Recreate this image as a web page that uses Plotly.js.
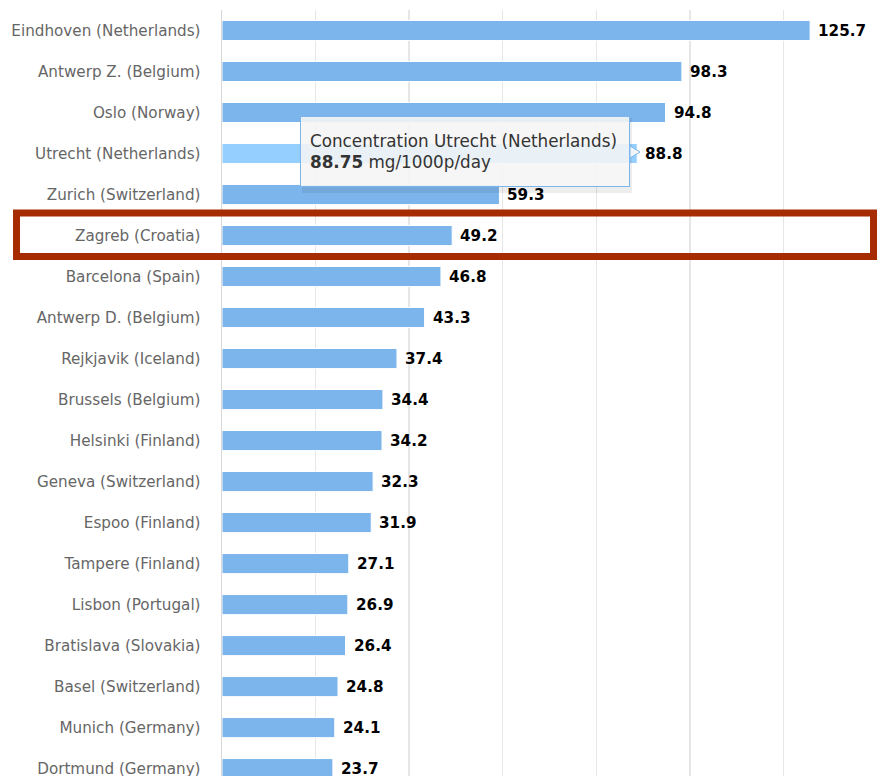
<!DOCTYPE html>
<html>
<head>
<meta charset="utf-8">
<script src="https://cdn.plot.ly/plotly-3.0.1.min.js"></script>
<style>html,body{margin:0;padding:0;background:#fff;}#chart{width:880px;height:776px;}</style>
</head>
<body>
<div id="chart"></div>
<script>
var cities = [
  "Eindhoven (Netherlands)", "Antwerp Z. (Belgium)", "Oslo (Norway)", "Utrecht (Netherlands)",
  "Zurich (Switzerland)", "Zagreb (Croatia)", "Barcelona (Spain)", "Antwerp D. (Belgium)",
  "Rejkjavik (Iceland)", "Brussels (Belgium)", "Helsinki (Finland)", "Geneva (Switzerland)",
  "Espoo (Finland)", "Tampere (Finland)", "Lisbon (Portugal)", "Bratislava (Slovakia)",
  "Basel (Switzerland)", "Munich (Germany)", "Dortmund (Germany)"
];
var concentration = [125.7, 98.3, 94.8, 88.75, 59.3, 49.2, 46.8, 43.3, 37.4, 34.4, 34.2, 32.3, 31.9, 27.1, 26.9, 26.4, 24.8, 24.1, 23.7];
var hoveredCity = "Utrecht (Netherlands)";
var highlightedCity = "Zagreb (Croatia)";
var seriesName = "Concentration";
var unit = "mg/1000p/day";

var baseColor = "#7cb5ec", hoverColor = "#95cfff";
var colors = cities.map(function (c) { return c === hoveredCity ? hoverColor : baseColor; });

var trace = {
  type: "bar", orientation: "h",
  y: cities, x: concentration,
  width: 0.49,
  marker: { color: colors, line: { color: "#ffffff", width: 1 } },
  hoverinfo: "skip"
};

var annotations = cities.map(function (c, i) {
  return {
    x: concentration[i], y: c, xref: "x", yref: "y",
    text: concentration[i].toFixed(1), showarrow: false,
    xanchor: "left", yanchor: "middle", xshift: 6,
    font: { family: "DejaVu Sans", size: 15.2, color: "#000000", weight: "bold" }
  };
});
var hi = cities.indexOf(hoveredCity);
annotations.push({
  xref: "paper", yref: "paper", x: 0.1191, y: 0.8615,
  xanchor: "left", yanchor: "top", showarrow: false, align: "left", valign: "middle",
  width: 310, height: 51, borderpad: 9, borderwidth: 1,
  bgcolor: "rgba(247,247,247,0.88)", bordercolor: baseColor,
  text: seriesName + " " + hoveredCity + "<br><b>" + concentration[hi].toFixed(2) + "</b> " + unit,
  font: { family: "DejaVu Sans", size: 16.8, color: "#333333" }
});

var shapes = [
  { type: "rect", xref: "paper", yref: "paper", x0: 0.1222, x1: 0.6260, y0: 0.7610, y1: 0.8590,
    line: { width: 0 }, fillcolor: "rgba(0,0,0,0.07)", layer: "above" },
  { type: "path", xref: "paper", yref: "paper",
    path: "M 0.6229 0.8225 L 0.6382 0.8146 L 0.6229 0.8068 Z",
    fillcolor: "rgba(247,247,247,0.95)", line: { color: baseColor, width: 1 }, layer: "above" },
  { type: "rect", xref: "paper", yref: "paper", x0: -0.3137, x1: 0.9947, y0: 0.6782, y1: 0.7350,
    line: { color: "#a62b00", width: 7 }, fillcolor: "rgba(0,0,0,0)", layer: "above" }
];

var layout = {
  width: 880, height: 776,
  margin: { l: 222, r: 3, t: 10, b: 0, pad: 0 },
  paper_bgcolor: "#ffffff", plot_bgcolor: "#ffffff",
  showlegend: false,
  bargap: 0.5,
  xaxis: {
    range: [0, 140], dtick: 20, showgrid: true, gridcolor: "#e6e6e6", gridwidth: 1.4,
    zeroline: false, showticklabels: false, ticks: "", fixedrange: true
  },
  yaxis: {
    type: "category", range: [18.18, -0.5], showgrid: false, zeroline: false,
    showline: true, linecolor: "#d8d8d8", linewidth: 1.4,
    ticks: "", ticklabelstandoff: 17,
    tickfont: { family: "DejaVu Sans", size: 15.2, color: "#666666" }, fixedrange: true
  },
  annotations: annotations,
  shapes: shapes
};

Plotly.newPlot("chart", [trace], layout, { displayModeBar: false, staticPlot: true });
</script>
</body>
</html>
